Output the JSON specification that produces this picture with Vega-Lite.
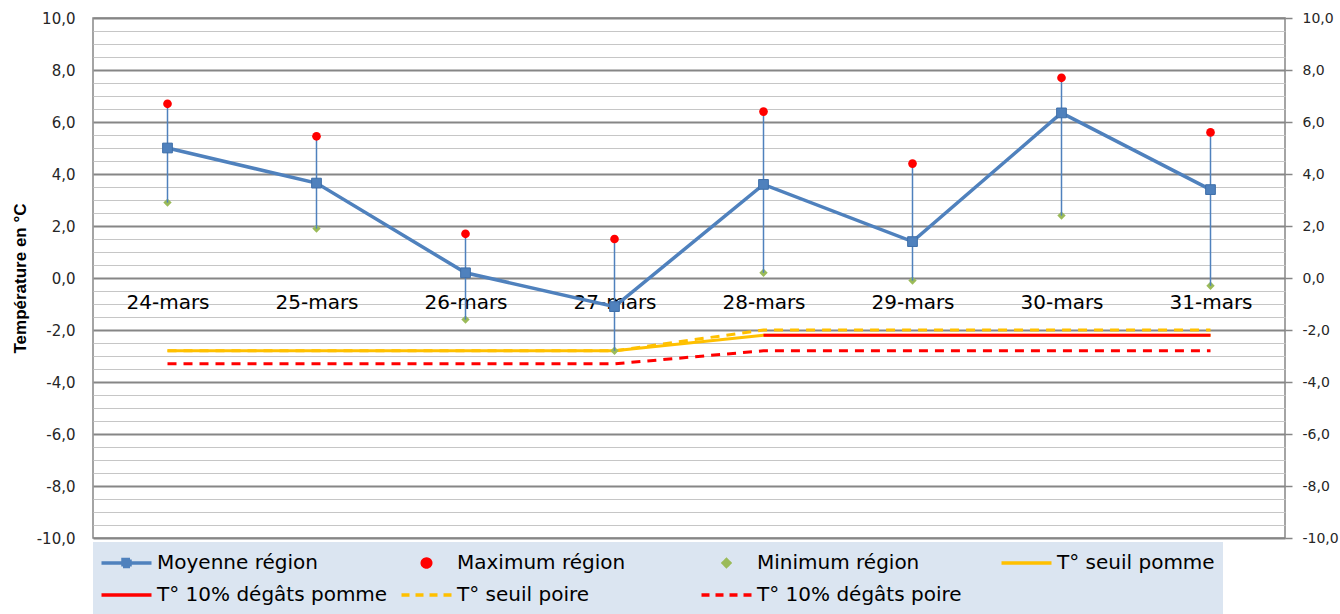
{
  "$schema": "https://vega.github.io/schema/vega-lite/v6.json",
  "width": 1192,
  "height": 520,
  "autosize": {"type": "none"},
  "padding": {"left": 93, "top": 18, "right": 55, "bottom": 76},
  "background": "white",
  "config": {
    "view": {"stroke": "#868686", "strokeWidth": 1.5},
    "axis": {"labelFont": "DejaVu Sans", "labelColor": "#262626"}
  },
  "datasets": {
    "stats": [
      {"date": "24-mars", "Moyenne région": 5.0, "Maximum région": 6.7, "Minimum région": 2.9},
      {"date": "25-mars", "Moyenne région": 3.65, "Maximum région": 5.45, "Minimum région": 1.9},
      {"date": "26-mars", "Moyenne région": 0.2, "Maximum région": 1.7, "Minimum région": -1.6},
      {"date": "27-mars", "Moyenne région": -1.1, "Maximum région": 1.5, "Minimum région": -2.8},
      {"date": "28-mars", "Moyenne région": 3.6, "Maximum région": 6.4, "Minimum région": 0.2},
      {"date": "29-mars", "Moyenne région": 1.4, "Maximum région": 4.4, "Minimum région": -0.1},
      {"date": "30-mars", "Moyenne région": 6.35, "Maximum région": 7.7, "Minimum région": 2.4},
      {"date": "31-mars", "Moyenne région": 3.4, "Maximum région": 5.6, "Minimum région": -0.3}
    ],
    "seuils": [
      {"date": "24-mars", "series": "T° seuil pomme", "value": -2.8},
      {"date": "25-mars", "series": "T° seuil pomme", "value": -2.8},
      {"date": "26-mars", "series": "T° seuil pomme", "value": -2.8},
      {"date": "27-mars", "series": "T° seuil pomme", "value": -2.8},
      {"date": "28-mars", "series": "T° seuil pomme", "value": -2.2},
      {"date": "29-mars", "series": "T° seuil pomme", "value": -2.2},
      {"date": "30-mars", "series": "T° seuil pomme", "value": -2.2},
      {"date": "31-mars", "series": "T° seuil pomme", "value": -2.2},
      {"date": "28-mars", "series": "T° 10% dégâts pomme", "value": -2.2},
      {"date": "29-mars", "series": "T° 10% dégâts pomme", "value": -2.2},
      {"date": "30-mars", "series": "T° 10% dégâts pomme", "value": -2.2},
      {"date": "31-mars", "series": "T° 10% dégâts pomme", "value": -2.2},
      {"date": "24-mars", "series": "T° seuil poire", "value": -2.8},
      {"date": "25-mars", "series": "T° seuil poire", "value": -2.8},
      {"date": "26-mars", "series": "T° seuil poire", "value": -2.8},
      {"date": "27-mars", "series": "T° seuil poire", "value": -2.8},
      {"date": "28-mars", "series": "T° seuil poire", "value": -2.0},
      {"date": "29-mars", "series": "T° seuil poire", "value": -2.0},
      {"date": "30-mars", "series": "T° seuil poire", "value": -2.0},
      {"date": "31-mars", "series": "T° seuil poire", "value": -2.0},
      {"date": "24-mars", "series": "T° 10% dégâts poire", "value": -3.3},
      {"date": "25-mars", "series": "T° 10% dégâts poire", "value": -3.3},
      {"date": "26-mars", "series": "T° 10% dégâts poire", "value": -3.3},
      {"date": "27-mars", "series": "T° 10% dégâts poire", "value": -3.3},
      {"date": "28-mars", "series": "T° 10% dégâts poire", "value": -2.8},
      {"date": "29-mars", "series": "T° 10% dégâts poire", "value": -2.8},
      {"date": "30-mars", "series": "T° 10% dégâts poire", "value": -2.8},
      {"date": "31-mars", "series": "T° 10% dégâts poire", "value": -2.8}
    ]
  },
  "encoding": {
    "x": {
      "field": "date",
      "type": "ordinal",
      "sort": null,
      "scale": {"type": "point", "padding": 0.5, "domain": ["24-mars", "25-mars", "26-mars", "27-mars", "28-mars", "29-mars", "30-mars", "31-mars"]},
      "axis": {
        "title": null,
        "orient": "bottom",
        "offset": -260,
        "domain": false,
        "ticks": false,
        "grid": false,
        "labelAngle": 0,
        "labelPadding": 14,
        "labelFont": "DejaVu Sans",
        "labelFontSize": 20,
        "labelColor": "#000000"
      }
    }
  },
  "resolve": {"scale": {"y": "independent"}},
  "layer": [
    {
      "data": {"name": "seuils"},
      "transform": [{"filter": {"field": "series", "oneOf": ["T° seuil pomme", "T° 10% dégâts pomme"]}}],
      "mark": {"type": "line", "strokeWidth": 3},
      "encoding": {
        "y": {
          "field": "value", "type": "quantitative",
          "scale": {"domain": [-10, 10], "nice": false, "zero": false},
          "axis": {
            "orient": "left",
            "values": [-10, -9.5, -9, -8.5, -8, -7.5, -7, -6.5, -6, -5.5, -5, -4.5, -4, -3.5, -3, -2.5, -2, -1.5, -1, -0.5, 0, 0.5, 1, 1.5, 2, 2.5, 3, 3.5, 4, 4.5, 5, 5.5, 6, 6.5, 7, 7.5, 8, 8.5, 9, 9.5, 10],
            "grid": true,
            "gridColor": {"condition": {"test": "datum.value % 2 === 0", "value": "#868686"}, "value": "#c6c6c6"},
            "gridWidth": {"condition": {"test": "datum.value % 2 === 0", "value": 2}, "value": 1},
            "ticks": false,
            "domain": false,
            "labelOverlap": false,
            "labelExpr": "datum.value % 2 === 0 ? replace(replace(format(datum.value, '.1f'), '.', ','), '\u2212', '-') : ''",
            "labelPadding": 18,
            "labelFontSize": 15,
            "title": "Température en °C",
            "titleFont": "Liberation Sans",
            "titleFontSize": 17,
            "titleFontWeight": "bold",
            "titleColor": "#000000",
            "titlePadding": 7
          }
        },
        "color": {
          "field": "series", "type": "nominal",
          "scale": {
            "domain": ["Moyenne région", "Maximum région", "Minimum région", "T° seuil pomme", "T° 10% dégâts pomme", "T° seuil poire", "T° 10% dégâts poire"],
            "range": ["#4f81bd", "#ff0000", "#9bbb59", "#ffc000", "#ff0000", "#ffc000", "#ff0000"]
          },
          "legend": {
            "title": null,
            "orient": "none",
            "legendX": 0,
            "legendY": 524,
            "direction": "horizontal",
            "columns": 4,
            "gridAlign": "all",
            "columnPadding": 13,
            "rowPadding": 6,
            "padding": 8,
            "fillColor": "#dbe5f1",
            "strokeColor": null,
            "clipHeight": 26,
            "symbolSize": 2500,
            "symbolStrokeWidth": 3.5,
            "symbolOffset": -1.5,
            "labelOffset": 3.5,
            "labelFont": "DejaVu Sans",
            "labelFontSize": 20,
            "labelColor": "#000000",
            "labelLimit": 0,
            "labelExpr": "datum.label === 'T° seuil pomme' ? datum.label + '\u00a0\u00a0\u00a0\u00a0\u00a0\u00a0\u00a0\u00a0\u00a0\u00a0\u00a0' : datum.label",
            "symbolOpacity": 1,
            "encode": {
              "symbols": {
                "update": {
                  "shape": {"signal": "datum.value === 'Moyenne région' ? 'M-1,0H1M-0.14,-0.14H0.14V0.14H-0.14Z' : datum.value === 'Maximum région' ? 'M0.17,0A0.17,0.16 0 1,1 -0.17,0A0.17,0.16 0 1,1 0.17,0Z' : datum.value === 'Minimum région' ? 'M0,-0.13L0.13,0L0,0.13L-0.13,0Z' : 'stroke'"},
                  "fill": {"signal": "datum.value === 'Moyenne région' ? '#4f81bd' : datum.value === 'Maximum région' ? '#ff0000' : datum.value === 'Minimum région' ? '#9bbb59' : 'transparent'"},
                  "stroke": {"signal": "datum.value === 'Moyenne région' ? '#4f81bd' : datum.value === 'Maximum région' || datum.value === 'Minimum région' ? 'transparent' : (indexof(datum.value, 'seuil') >= 0 ? '#ffc000' : '#ff0000')"},
                  "strokeDash": {"signal": "indexof(datum.value, 'poire') >= 0 ? [8, 6] : [1, 0]"},
                  "opacity": {"value": 1}
                }
              }
            }
          }
        }
      }
    },
    {
      "data": {"name": "seuils"},
      "transform": [{"filter": {"field": "series", "oneOf": ["T° seuil poire", "T° 10% dégâts poire"]}}],
      "mark": {"type": "line", "strokeWidth": 3, "strokeDash": [9, 7]},
      "encoding": {
        "y": {"field": "value", "type": "quantitative", "scale": {"domain": [-10, 10], "nice": false, "zero": false}, "axis": null},
        "color": {
          "field": "series", "type": "nominal",
          "scale": {
            "domain": ["Moyenne région", "Maximum région", "Minimum région", "T° seuil pomme", "T° 10% dégâts pomme", "T° seuil poire", "T° 10% dégâts poire"],
            "range": ["#4f81bd", "#ff0000", "#9bbb59", "#ffc000", "#ff0000", "#ffc000", "#ff0000"]
          }
        }
      }
    },
    {
      "data": {"name": "stats"},
      "transform": [{"fold": ["Minimum région"], "as": ["series", "value"]}],
      "mark": {"type": "point", "shape": "diamond", "filled": true, "size": 70, "opacity": 1},
      "encoding": {
        "y": {"field": "value", "type": "quantitative", "scale": {"domain": [-10, 10], "nice": false, "zero": false}, "axis": null},
        "color": {
          "field": "series", "type": "nominal",
          "scale": {
            "domain": ["Moyenne région", "Maximum région", "Minimum région", "T° seuil pomme", "T° 10% dégâts pomme", "T° seuil poire", "T° 10% dégâts poire"],
            "range": ["#4f81bd", "#ff0000", "#9bbb59", "#ffc000", "#ff0000", "#ffc000", "#ff0000"]
          }
        }
      }
    },
    {
      "data": {"name": "stats"},
      "mark": {"type": "rule", "color": "#4f81bd", "strokeWidth": 1.5},
      "encoding": {
        "y": {
          "field": "Minimum région", "type": "quantitative",
          "scale": {"domain": [-10, 10], "nice": false, "zero": false},
          "axis": {
            "orient": "right",
            "title": null,
            "values": [-10, -8, -6, -4, -2, 0, 2, 4, 6, 8, 10],
            "grid": false,
            "domain": false,
            "ticks": true,
            "tickSize": 7,
            "tickColor": "#868686",
            "tickWidth": 1.5,
            "labelPadding": 10,
            "labelFontSize": 14,
            "labelOverlap": false,
            "labelExpr": "replace(replace(format(datum.value, '.1f'), '.', ','), '\u2212', '-')"
          }
        },
        "y2": {"field": "Maximum région"}
      }
    },
    {
      "data": {"name": "stats"},
      "transform": [{"fold": ["Moyenne région"], "as": ["series", "value"]}],
      "mark": {"type": "line", "strokeWidth": 3.5},
      "encoding": {
        "y": {"field": "value", "type": "quantitative", "scale": {"domain": [-10, 10], "nice": false, "zero": false}, "axis": null},
        "color": {
          "field": "series", "type": "nominal",
          "scale": {
            "domain": ["Moyenne région", "Maximum région", "Minimum région", "T° seuil pomme", "T° 10% dégâts pomme", "T° seuil poire", "T° 10% dégâts poire"],
            "range": ["#4f81bd", "#ff0000", "#9bbb59", "#ffc000", "#ff0000", "#ffc000", "#ff0000"]
          }
        }
      }
    },
    {
      "data": {"name": "stats"},
      "transform": [{"fold": ["Moyenne région"], "as": ["series", "value"]}],
      "mark": {"type": "point", "shape": "square", "filled": true, "size": 95, "opacity": 1, "stroke": "#3f6fa8", "strokeWidth": 1},
      "encoding": {
        "y": {"field": "value", "type": "quantitative", "scale": {"domain": [-10, 10], "nice": false, "zero": false}, "axis": null},
        "color": {
          "field": "series", "type": "nominal",
          "scale": {
            "domain": ["Moyenne région", "Maximum région", "Minimum région", "T° seuil pomme", "T° 10% dégâts pomme", "T° seuil poire", "T° 10% dégâts poire"],
            "range": ["#4f81bd", "#ff0000", "#9bbb59", "#ffc000", "#ff0000", "#ffc000", "#ff0000"]
          }
        }
      }
    },
    {
      "data": {"name": "stats"},
      "transform": [{"fold": ["Maximum région"], "as": ["series", "value"]}],
      "mark": {"type": "point", "shape": "circle", "filled": true, "size": 75, "opacity": 1},
      "encoding": {
        "y": {"field": "value", "type": "quantitative", "scale": {"domain": [-10, 10], "nice": false, "zero": false}, "axis": null},
        "color": {
          "field": "series", "type": "nominal",
          "scale": {
            "domain": ["Moyenne région", "Maximum région", "Minimum région", "T° seuil pomme", "T° 10% dégâts pomme", "T° seuil poire", "T° 10% dégâts poire"],
            "range": ["#4f81bd", "#ff0000", "#9bbb59", "#ffc000", "#ff0000", "#ffc000", "#ff0000"]
          }
        }
      }
    }
  ]
}
